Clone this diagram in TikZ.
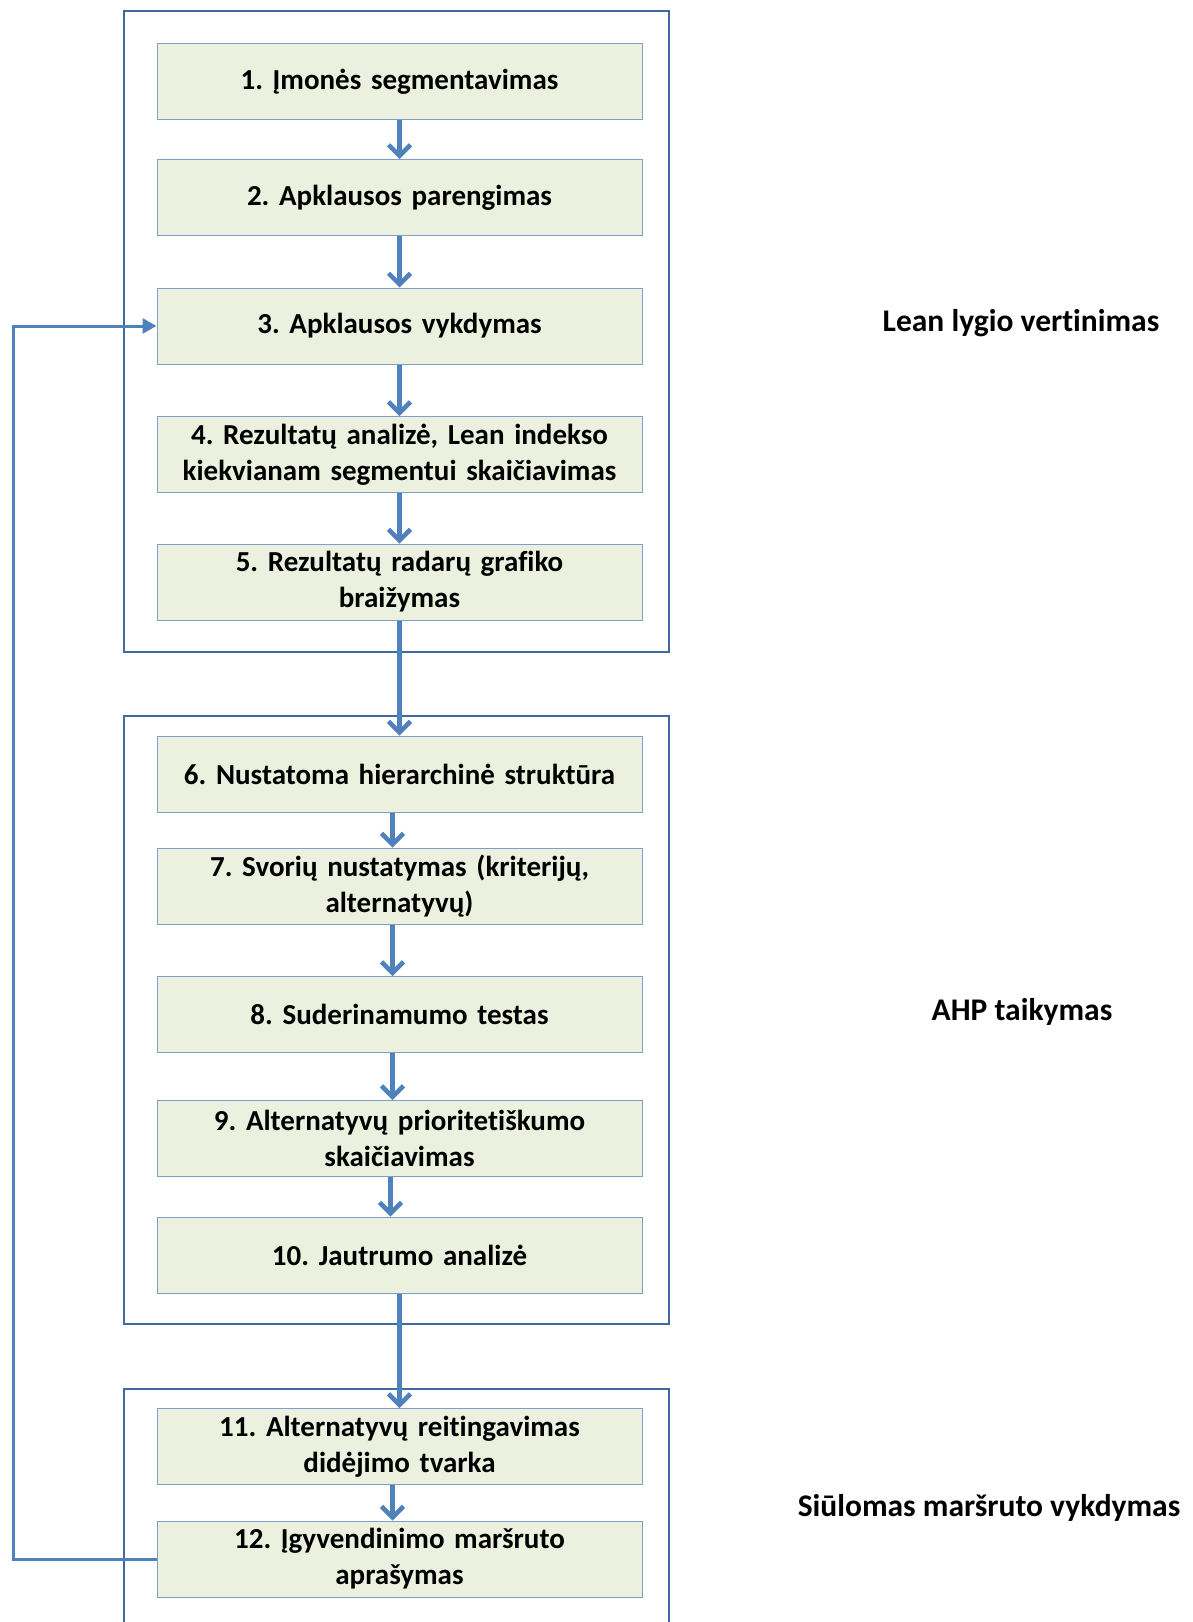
\documentclass[tikz,border=0pt]{standalone}
\usepackage{fontspec}
\setmainfont[Ligatures=NoCommon]{Carlito}
\usetikzlibrary{arrows.meta}
\frenchspacing
\definecolor{stepfill}{HTML}{EBF1DE}
\definecolor{stepline}{HTML}{7F9FCB}
\definecolor{flowblue}{HTML}{4F81BD}
\definecolor{groupline}{HTML}{3F6AA0}
\tikzset{
  stepbox/.style={draw=stepline,line width=1pt,fill=stepfill,minimum width=485pt,minimum height=76pt,text width=475pt,align=center,inner sep=0pt,font=\fontsize{29}{36}\selectfont\bfseries},
  grouprect/.style={draw=groupline,line width=2.4pt},
  flow/.style={draw=flowblue,line width=4.5pt,-{Straight Barb[length=11pt,width=22pt,line width=4.5pt]}},
  feedback/.style={draw=flowblue,line width=3pt,-{Triangle[length=14pt,width=15pt]}},
  sidelabel/.style={font=\fontsize{31.5}{36}\selectfont\bfseries}
}
\begin{document}
\begin{tikzpicture}[x=1pt,y=-1pt]
\useasboundingbox[fill=white] (0,0) rectangle (1192,1622);
\clip (0,0) rectangle (1192,1622);
% outer groups
\draw[grouprect] (124,11) rectangle (669,652);
\draw[grouprect] (124,716) rectangle (669,1324);
\draw[grouprect] (124,1640) -- (124,1389) -- (669,1389) -- (669,1640);
% steps
\node[stepbox] (b1) at (399.5,81.5) {1. Įmonės segmentavimas};
\node[stepbox] (b2) at (399.5,197.5) {2. Apklausos parengimas};
\node[stepbox] (b3) at (399.5,326) {3. Apklausos vykdymas};
\node[stepbox] (b4) at (399.5,454.5) {4. Rezultatų analizė, Lean indekso\\kiekvianam segmentui skaičiavimas};
\node[stepbox] (b5) at (399.5,582) {5. Rezultatų radarų grafiko\\braižymas};
\node[stepbox] (b6) at (399.5,774) {6. Nustatoma hierarchinė struktūra};
\node[stepbox] (b7) at (399.5,886) {7. Svorių nustatymas (kriterijų,\\alternatyvų)};
\node[stepbox] (b8) at (399.5,1014.5) {8. Suderinamumo testas};
\node[stepbox] (b9) at (399.5,1138.5) {9. Alternatyvų prioritetiškumo\\skaičiavimas};
\node[stepbox] (b10) at (399.5,1255) {10. Jautrumo analizė};
\node[stepbox] (b11) at (399.5,1446.5) {11. Alternatyvų reitingavimas\\didėjimo tvarka};
\node[stepbox] (b12) at (399.5,1559) {12. Įgyvendinimo maršruto\\aprašymas};
% arrows
\draw[flow] (b1) -- (b2);
\draw[flow] (b2) -- (b3);
\draw[flow] (b3) -- (b4);
\draw[flow] (b4) -- (b5);
\draw[flow] (b5) -- (b6);
\draw[flow] ([xshift=-7pt]b6.south) -- ([xshift=-7pt]b7.north);
\draw[flow] ([xshift=-7pt]b7.south) -- ([xshift=-7pt]b8.north);
\draw[flow] ([xshift=-7pt]b8.south) -- ([xshift=-7pt]b9.north);
\draw[flow] ([xshift=-9pt]b9.south) -- ([xshift=-9pt]b10.north);
\draw[flow] (b10) -- (b11);
\draw[flow] ([xshift=-7pt]b11.south) -- ([xshift=-7pt]b12.north);
\coordinate (fbx) at (13,0);
\draw[feedback] (b12.west) -- (b12.west -| fbx) |- (b3.west);
% side labels
\node[sidelabel] (lean) at (1021,323) {Lean lygio vertinimas};
\node[sidelabel] (ahp) at (1022,1012) {AHP taikymas};
\node[sidelabel] (route) at (989,1508) {Siūlomas maršruto vykdymas};
\end{tikzpicture}
\end{document}
